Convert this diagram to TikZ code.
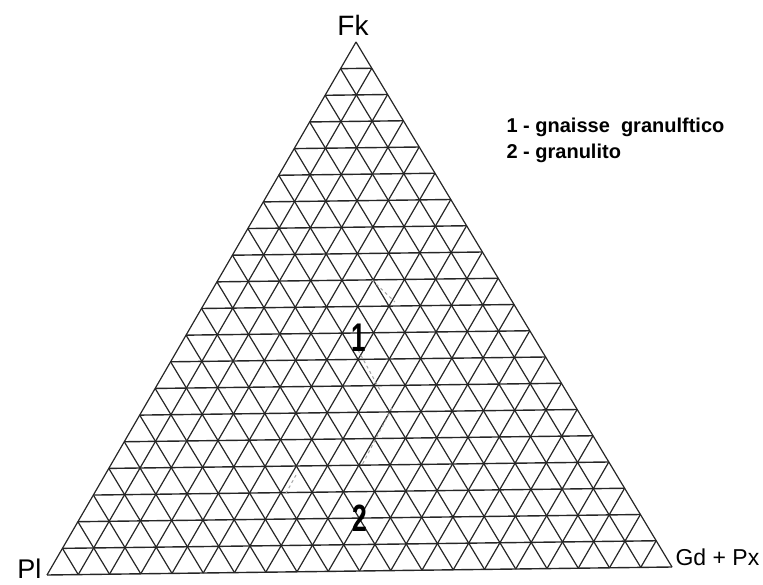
\documentclass[tikz,border=0pt]{standalone}
\usepackage{fontspec}
\setmainfont{Liberation Sans}
\usetikzlibrary{calc}

\begin{document}
\begin{tikzpicture}[x=1pt,y=-1pt,font=\fontsize{20}{24}\selectfont]
  \useasboundingbox (0,0) rectangle (763,585);
  \coordinate (pl) at (47,575);
  \coordinate (gd) at (672,567);
  \coordinate (fk) at (356,42);
  % triangular grid, 20 steps per side
  \foreach \k in {0,...,20} {
    \draw[black!85,line width=1.4pt] ($(pl)!\k/20!(fk)$) -- ($(gd)!\k/20!(fk)$);
    \draw[black!85,line width=1.2pt] ($(pl)!\k/20!(gd)$) -- ($(fk)!\k/20!(gd)$);
    \draw[black!85,line width=1.2pt] ($(pl)!\k/20!(gd)$) -- ($(pl)!\k/20!(fk)$);
  }
  % faint field boundaries
  \draw[black!35,dashed,line width=1pt] (372,280) -- (395,302);
  \draw[black!35,dashed,line width=1pt] (358,350) -- (380,390);
  \draw[black!35,dashed,line width=1pt] (392,408) -- (362,465);
  \draw[black!35,dashed,line width=1pt] (296,475) -- (285,495);
  % corners
  \node (fktxt) at (353,25) {\fontsize{28}{28}\selectfont Fk};
  \node[anchor=east] (pltxt) at (45,569) {\fontsize{27}{27}\selectfont Pl};
  \node[anchor=west] (gdtxt) at (672,557) {\fontsize{23}{23}\selectfont Gd + Px};
  % fields
  \node (f1) at (359,338) {\fontsize{40}{40}\selectfont\bfseries\scalebox{0.65}[1]{1}};
  \node (f2) at (360,518) {\fontsize{38}{38}\selectfont\bfseries\scalebox{0.7}[1]{2}};
  % legend
  \node[anchor=west] (leg1) at (503,127) {\bfseries 1 - gnaisse\ \ granulftico};
  \node[anchor=west] (leg2) at (503,153) {\bfseries 2 - granulito};
\end{tikzpicture}
\end{document}
